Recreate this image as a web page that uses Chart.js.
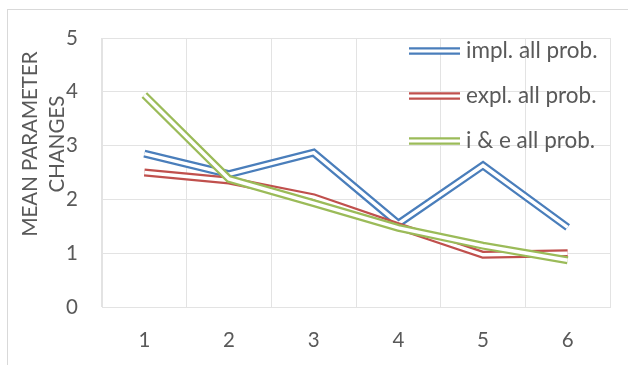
<!DOCTYPE html>
<html>
<head>
<meta charset="utf-8">
<script src="https://cdn.jsdelivr.net/npm/chart.js@4/dist/chart.umd.min.js"></script>
<style>
  html, body { margin: 0; padding: 0; background: #fff; }
  #wrap { position: relative; width: 628px; height: 365px; overflow: hidden; }
  #frame { position: absolute; left: 7px; top: 9px; width: 700px; height: 420px;
           border-left: 1px solid #d9d9d9; border-top: 1px solid #d9d9d9; }
  #chart { position: absolute; left: 0; top: 0; }
</style>
</head>
<body>
<div id="wrap">
  <div id="frame"></div>
  <canvas id="chart" width="628" height="365"></canvas>
</div>
<script>
const categories = ['1', '2', '3', '4', '5', '6'];
const seriesNames = ['impl. all prob.', 'expl. all prob.', 'i & e all prob.'];
const implAll = [2.85, 2.47, 2.87, 1.55, 2.63, 1.48];
const explAll = [2.50, 2.35, 2.04, 1.50, 0.97, 1.00];
const bothAll = [3.94, 2.38, 1.93, 1.47, 1.14, 0.87];
const axisTitle = ['MEAN PARAMETER', 'CHANGES'];

const seriesColors = ['#4a7ebb', '#c0504d', '#9bbb59'];
const FONT = 'Lato, sans-serif';
const TEXT = '#595959';
const GRID = '#e3e3e3';

// a series is drawn as a double stroke: wide coloured line, thin white line over it.
// rank 0 ends up on top (lower order is drawn last)
function doubleLine(label, data, color, rank) {
  const common = {
    data, fill: false, tension: 0,
    pointRadius: 0, pointHoverRadius: 0,
    borderCapStyle: 'butt', borderJoinStyle: 'miter'
  };
  return [
    { ...common, label, borderColor: color, borderWidth: 8, order: rank * 2 + 1 },
    { ...common, label: label + ' (gap)', borderColor: '#ffffff', borderWidth: 3.5, order: rank * 2 }
  ];
}

const datasets = [
  ...doubleLine(seriesNames[0], implAll, seriesColors[0], 2),
  ...doubleLine(seriesNames[1], explAll, seriesColors[1], 1),
  ...doubleLine(seriesNames[2], bothAll, seriesColors[2], 0)
];

// axis title and legend are placed by hand
const overlay = {
  id: 'overlay',
  afterDraw(chart) {
    const ctx = chart.ctx;
    ctx.save();
    ctx.fillStyle = TEXT;
    ctx.font = '20.5px ' + FONT;
    ctx.textAlign = 'center';
    ctx.textBaseline = 'middle';
    const titleX = [30, 57];
    axisTitle.forEach((t, i) => {
      ctx.save();
      ctx.translate(titleX[i], 144);
      ctx.rotate(-Math.PI / 2);
      ctx.fillText(t, 0, 0);
      ctx.restore();
    });

    ctx.textAlign = 'left';
    ctx.font = '22.5px ' + FONT;
    seriesNames.forEach((name, i) => {
      const y = 51 + i * 45;
      ctx.lineCap = 'butt';
      ctx.strokeStyle = seriesColors[i];
      ctx.lineWidth = 7.5;
      ctx.beginPath(); ctx.moveTo(409, y); ctx.lineTo(460, y); ctx.stroke();
      ctx.strokeStyle = '#ffffff';
      ctx.lineWidth = 3;
      ctx.beginPath(); ctx.moveTo(409, y); ctx.lineTo(460, y); ctx.stroke();
      ctx.fillStyle = TEXT;
      ctx.fillText(name, 466, y);
    });
    ctx.restore();
  }
};

new Chart(document.getElementById('chart'), {
  type: 'line',
  data: { labels: categories, datasets },
  options: {
    responsive: false,
    animation: false,
    devicePixelRatio: 1,
    layout: { padding: { left: 7, right: 18, top: 38, bottom: 0 } },
    plugins: { legend: { display: false }, tooltip: { enabled: false } },
    scales: {
      x: {
        offset: true,
        grid: { offset: true, color: GRID, drawTicks: false },
        border: { color: GRID },
        ticks: { color: TEXT, font: { family: FONT, size: 20.5, lineHeight: 1.2 }, padding: 21 },
        afterFit(scale) { scale.height = 58; }
      },
      y: {
        min: 0,
        max: 5,
        grid: { color: GRID, drawTicks: false },
        border: { color: GRID },
        ticks: { stepSize: 1, color: TEXT, font: { family: FONT, size: 20.5, lineHeight: 1.2 }, padding: 24 },
        afterFit(scale) { scale.width = 95; }
      }
    }
  },
  plugins: [overlay]
});
</script>
</body>
</html>
